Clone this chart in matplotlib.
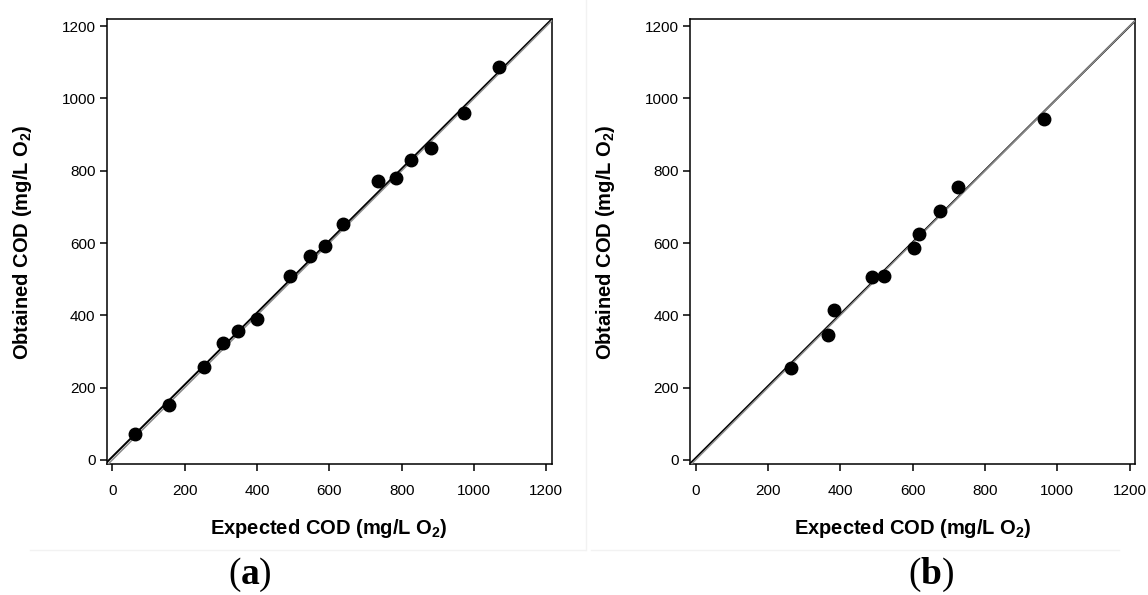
import numpy as np
import matplotlib
matplotlib.use("Agg")
import matplotlib.pyplot as plt
from matplotlib.lines import Line2D

plt.rcParams['font.family'] = ['Liberation Sans', 'DejaVu Sans']
plt.rcParams['mathtext.fontset'] = 'custom'
plt.rcParams['mathtext.rm'] = 'Liberation Sans'
plt.rcParams['mathtext.bf'] = 'Liberation Sans:bold'

# (a) expected vs obtained COD, mg/L O2
expected_a = [64, 158, 253, 306, 347, 400, 492, 546, 588, 639, 734, 784, 827, 881, 972, 1068]
obtained_a = [72, 152, 257, 324, 358, 391, 510, 565, 593, 652, 773, 780, 829, 863, 959, 1086]

# (b)
expected_b = [265, 365, 383, 488, 520, 603, 617, 675, 726, 963]
obtained_b = [255, 346, 415, 505, 510, 585, 626, 688, 756, 943]

ticks = [0, 200, 400, 600, 800, 1000, 1200]
xlim = (-15.5, 1215.5)
ylim = (-12, 1219)

fig = plt.figure(figsize=(11.48, 5.95), dpi=100)

# faint panel borders
for seg in [((0.026, 0.51), (0.076, 0.076)), ((0.515, 0.975), (0.076, 0.076)),
            ((0.5105, 0.5105), (0.076, 1.0))]:
    fig.add_artist(Line2D(seg[0], seg[1], color='#f2f2f2', lw=1.0,
                          transform=fig.transFigure))

panels = [
    (fig.add_axes([0.0929, 0.2197, 0.3879, 0.7479]), expected_a, obtained_a, 'a', 0.1986),
    (fig.add_axes([0.6010, 0.2197, 0.3879, 0.7479]), expected_b, obtained_b, 'b', 0.7910),
]

serif = ['Liberation Serif', 'DejaVu Serif']

for ax, x, y, tag, tag_x in panels:
    x = np.array(x, dtype=float)
    y = np.array(y, dtype=float)
    k, b = np.polyfit(x, y, 1)
    xs = np.array(xlim)
    ax.plot(xs, k * xs + b, color='black', lw=1.4, zorder=2)
    ax.plot(xs, xs, color='#8c8c8c', lw=1.1, zorder=3)
    ax.plot(x, y, 'o', color='black', ms=9, zorder=4)

    ax.set_xlim(xlim)
    ax.set_ylim(ylim)
    ax.set_xticks(ticks)
    ax.set_yticks(ticks)
    for s in ax.spines.values():
        s.set_linewidth(1.1)
    ax.tick_params(direction='out', length=5, width=1.1, labelsize=11)
    ax.tick_params(axis='x', pad=9)
    ax.tick_params(axis='y', pad=3)

    ax.set_xlabel(r'Expected COD (mg/L O$_\mathbf{2}$)', fontsize=14.5,
                  fontweight='bold', labelpad=14)
    ax.set_ylabel(r'Obtained COD (mg/L O$_\mathbf{2}$)', fontsize=14.5,
                  fontweight='bold', labelpad=20)

    # "(a)" style caption: plain parentheses, bold letter
    t1 = fig.text(tag_x, 0.019, '(', fontsize=27, family=serif, va='baseline')
    t2 = ax.annotate(tag, xy=(1, 0), xycoords=t1, va='bottom', fontsize=27,
                     family=serif, fontweight='bold')
    ax.annotate(')', xy=(1, 0), xycoords=t2, va='bottom', fontsize=27, family=serif)

fig.savefig('out.png', dpi=100)
